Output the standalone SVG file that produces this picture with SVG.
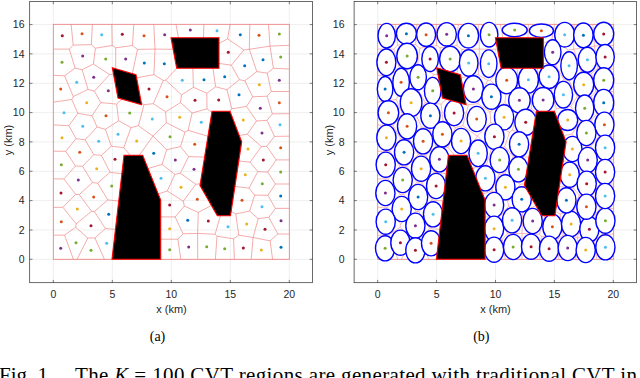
<svg xmlns="http://www.w3.org/2000/svg" xmlns:xlink="http://www.w3.org/1999/xlink" width="640" height="378" viewBox="0 0 640 378">
<style>
.grid{stroke:#e4e4e4;stroke-width:0.6;fill:none}
.frame{stroke:#2b2b2b;stroke-width:0.7;fill:none}
.tick{stroke:#2b2b2b;stroke-width:0.6}
.lbl{font-family:"Liberation Sans",Arial,sans-serif;font-size:10.5px;fill:#262626}
.ax{font-family:"Liberation Sans",Arial,sans-serif;font-size:11px;fill:#262626}
.cap{font-family:"Liberation Serif","Times New Roman",serif;fill:#000}
.vor{stroke:#f07f7f;stroke-width:0.65;fill:none;stroke-linejoin:round}
.vorb{stroke:#f38a8a;stroke-width:0.7;fill:none;opacity:0.85}
.dom{fill:none;stroke:#f07a7a;stroke-width:0.8}
.obs{fill:#000;stroke:#ff0000;stroke-width:1.1}
.ell{fill:#fff;stroke:#0000ff;stroke-width:1.4}
.b{fill:#0072BD}.o{fill:#D95319}.y{fill:#EDB120}.p{fill:#7E2F8E}.g{fill:#77AC30}.l{fill:#4DBEEE}.r{fill:#A2142F}
</style>
<defs>
<clipPath id="dclip"><rect x="53.3" y="24.3" width="236" height="235"/></clipPath>
<path id="vorpath" d="M73.2 45.1L71.1 24.3M91.3 44.6L92.4 24.3M112.2 45.5L111.8 24.3M132.5 45.5L133.8 24.3M155 49.1L153.8 24.3M180.6 49.4L176 24.3M203.1 51.7L203.9 24.3M227.6 38.9L230.1 24.3M249.3 49.3L249.8 24.3M270 46.1L268.5 24.3M53.3 49.1L69.3 49.1L73.2 45.1L91.3 44.6L95.4 48.2L112.2 45.5L115.7 47.8L132.5 45.5L137.5 49.4L155 49.1L180.6 49.4L188.5 55.5L192.5 56.1L202.1 53.5L203.1 51.7L227.6 38.9L243.9 50L249.3 49.3L270 46.1L289.3 45.3M202.1 53.5L212.1 62.4L231.4 65.2L243.9 50M69.3 49.1L75.1 68.1M95.4 48.2L93.4 64M115.7 47.8L115.7 74.1M137.5 49.4L131.2 78.8M155 49.1L153.9 74.7M53.3 75.3L64.6 75.8L75.1 68.1L82.2 69.7L93.4 64L109.6 74.6L115.7 74.1L128.3 81L131.2 78.8L153.9 74.7L163.3 80.4L165.8 80.2L188.5 55.5M64.6 75.8L73.3 96.6M82.2 69.7L88 89.4M109.6 74.6L94.4 91.2M128.3 81L128.8 92.5M163.3 80.4L153.4 103.7M165.8 80.2L181.5 94.9M192.5 56.1L193.4 87.3M212.1 62.4L215.6 86.8M231.4 65.2L239.4 79.7L226.9 89.7M239.4 79.7L244.8 80.8M249.3 49.3L256.8 71.6M270 46.1L273.4 68.3M256.8 71.6L244.8 80.8M256.8 71.6L267.2 73.1M273.4 68.3L267.2 73.1M273.4 68.3L289.3 69M267.2 73.1L271.3 91.5L289.3 91.5M271.3 91.5L267.1 96.2L252.7 96.8M244.8 80.8L252.7 96.8L246.5 106.4L231.9 108.9L222.3 120.7M226.9 89.7L231.9 108.9M215.6 86.8L226.9 89.7M215.6 86.8L206.8 93.2L193.4 87.3L181.5 94.9L180.5 102.6M206.8 93.2L207 108.8L222.3 120.7M207 108.8L192.1 113L180.5 102.6L165.6 111.8L153.4 103.7L144 104.7L128.8 92.5L116.7 104.1L100.8 102.6L94.4 91.2L88 89.4L73.3 96.6L71.8 99.5L53.3 102.1M71.8 99.5L77.8 113.3M100.8 102.6L92 115.7M116.7 104.1L118.6 120.8M144 104.7L138.4 125.7M165.6 111.8L166.3 122.7M192.1 113L188.1 130.3L221.9 140.5M222.3 120.7L223.2 138.1L247.3 134.2M223.2 138.1L221.9 140.5M246.5 106.4L256.5 121M267.1 96.2L272.3 113.9L289.3 113.7M272.3 113.9L267 120.3L256.5 121L247.3 134.2M267 120.3L274.5 136.4L289.3 136.2M274.5 136.4L266.7 146.3L261.4 146.6L247.3 134.2M266.7 146.3L276.2 159.9L289.3 159.9M261.4 146.6L250.1 162.2L230 160M250.1 162.2L257.8 171.6M276.2 159.9L267.8 172.1L257.8 171.6M267.8 172.1L275.4 184L289.3 184M257.8 171.6L249 188.2L228 185.6M249 188.2L254.7 195.1M275.4 184L267.9 195.3L254.7 195.1L249.6 211.1M267.9 195.3L275.4 208.4L289.3 208.4M275.4 208.4L268.9 217.3L258.2 218.7L249.6 211.1L235.7 213.9L222 206.6M235.7 213.9L238.8 235.1M258.2 218.7L253.1 237.5M268.9 217.3L277.8 234L289.3 234M277.8 234L270.1 240.9L253.1 237.5M270.1 240.9L272.6 259.3M253.1 237.5L251.2 259.3M253.1 237.5L238.8 235.1L233.6 238.8L234.4 259.3M233.6 238.8L217 236.3L215.4 259.3M217 236.3L215.1 234.3L221.2 213M215.1 234.3L197.6 233.4L197.7 259.3M197.6 233.4L198.3 212.4L216 203M198.3 212.4L184.3 206.1M197.6 233.4L183.1 233.8L175.1 216.9M183.1 233.8L177.9 239.2L180.8 259.3M177.9 239.2L155 239.2M175.1 216.9L155 216.9M175.1 216.9L184.3 206.1L183.3 201.2L167.3 191M183.3 201.2L195.8 184.3L210 182.7M195.8 184.3L180.4 173.2L174.8 174.4M180.4 173.2L188.6 156.6L215 157.4M188.6 156.6L180.5 146.6L185 132.1L188.1 130.3M185 132.1L166.3 122.7L153 136.1M180.5 146.6L166.7 149.7L153 136.1M166.7 149.7L162.1 164.4L174.8 174.4L167.3 191L150 196.6M162.1 164.4L145 169.4M153 136.1L138.4 125.7L131 127.6L118.6 120.8L105.3 129.3L97.1 127L92 115.7L77.8 113.3L68.9 125.7L53.3 124.9M68.9 125.7L76 138.7L85.1 139.8L97.1 127M76 138.7L65.7 151.3L53.3 151.2M85.1 139.8L93.8 154.7M105.3 129.3L111.4 146.2L101.4 155.3L93.8 154.7M131 127.6L123.8 147.7L111.4 146.2M123.8 147.7L135.1 161.1M153 136.1L135.1 161.1M65.7 151.3L75.5 166L82.6 166.3M93.8 154.7L82.6 166.3M101.4 155.3L110.1 172.3L135 175.4M110.1 172.3L97.6 183.1M82.6 166.3L92.5 182.6L97.6 183.1L107.8 199.9L130 202.3M75.5 166L63.9 178.9L53.3 178.9M92.5 182.6L79.3 194.6L75.6 194.4L63.9 178.9M75.6 194.4L62.9 207.3L53.3 207.4M79.3 194.6L91.6 211.3L94.4 211.5L107.8 199.9M91.6 211.3L76.1 223.9L62.9 207.3M76.1 223.9L75.7 227.3L64.5 235.1L53.3 235.2M75.7 227.3L87.8 238L94.9 238L105.4 228.6L94.4 211.5M105.4 228.6L130 230.2M64.5 235.1L73.4 259.3M87.8 238L77 259.3M94.9 238L104.4 259.3"/>
<g id="obstacles">
<polygon class="obs" points="171,37.7 219,37.7 219,68.3 176.7,68.3"/>
<polygon class="obs" points="112.3,67.7 136,74.7 141.7,104.7 118,98"/>
<polygon class="obs" points="212,111.3 230,111.3 241.7,141.7 230.5,215.7 217.3,215.7 200,185.5"/>
<polygon class="obs" points="124,155.3 142.7,155.3 160.7,200 160.7,259.3 112,259.3"/>
</g>
</defs>

<g id="axes-a">
<path class="grid" d="M53.3 1.5V282.7M112.3 1.5V282.7M171.3 1.5V282.7M230.3 1.5V282.7M289.3 1.5V282.7M29.7 259.3H312.5M29.7 230H312.5M29.7 200.6H312.5M29.7 171.3H312.5M29.7 141.9H312.5M29.7 112.6H312.5M29.7 83.3H312.5M29.7 53.9H312.5M29.7 24.6H312.5"/>
<rect class="frame" x="29.7" y="1.5" width="282.8" height="281.2"/>
<path class="tick" d="M53.3 282.7v-2.8M112.3 282.7v-2.8M171.3 282.7v-2.8M230.3 282.7v-2.8M289.3 282.7v-2.8M53.3 1.5v2.8M112.3 1.5v2.8M171.3 1.5v2.8M230.3 1.5v2.8M289.3 1.5v2.8M29.7 259.3h2.8M29.7 230h2.8M29.7 200.6h2.8M29.7 171.3h2.8M29.7 141.9h2.8M29.7 112.6h2.8M29.7 83.3h2.8M29.7 53.9h2.8M29.7 24.6h2.8M312.5 259.3h-2.8M312.5 230h-2.8M312.5 200.6h-2.8M312.5 171.3h-2.8M312.5 141.9h-2.8M312.5 112.6h-2.8M312.5 83.3h-2.8M312.5 53.9h-2.8M312.5 24.6h-2.8"/>
<g class="lbl" text-anchor="end">
<text x="24.5" y="263">0</text><text x="24.5" y="233.7">2</text><text x="24.5" y="204.3">4</text><text x="24.5" y="175">6</text><text x="24.5" y="145.6">8</text><text x="24.5" y="116.3">10</text><text x="24.5" y="87">12</text><text x="24.5" y="57.6">14</text><text x="24.5" y="28.3">16</text>
</g>
<g class="lbl" text-anchor="middle">
<text x="53.3" y="297.5">0</text><text x="112.3" y="297.5">5</text><text x="171.3" y="297.5">10</text><text x="230.3" y="297.5">15</text><text x="289.3" y="297.5">20</text>
</g>
<text class="ax" x="171.5" y="313" text-anchor="middle">x (km)</text>
<text class="ax" x="12" y="140" text-anchor="middle" transform="rotate(-90 12 140)">y (km)</text>
</g>

<g id="plot-a">
<use xlink:href="#vorpath" href="#vorpath" class="vor" clip-path="url(#dclip)"/>
<rect class="dom" x="53.3" y="24.3" width="236" height="235"/>
<use xlink:href="#obstacles" href="#obstacles"/>
<g id="points-a">
<circle class="r" cx="62.3" cy="35.7" r="1.5"/><circle class="o" cx="82" cy="33.7" r="1.5"/><circle class="l" cx="101.7" cy="34.7" r="1.5"/><circle class="r" cx="122.3" cy="34.3" r="1.5"/><circle class="o" cx="144" cy="35.7" r="1.5"/><circle class="p" cx="164.7" cy="34.7" r="1.5"/><circle class="p" cx="190.3" cy="30" r="1.5"/><circle class="l" cx="217" cy="30.7" r="1.5"/><circle class="b" cx="240.3" cy="34.7" r="1.5"/><circle class="o" cx="259" cy="35.3" r="1.5"/><circle class="g" cx="279.3" cy="34" r="1.5"/>
<circle class="g" cx="62" cy="62.3" r="1.5"/><circle class="p" cx="82.7" cy="56" r="1.5"/><circle class="g" cx="105.7" cy="59" r="1.5"/><circle class="p" cx="125.7" cy="59" r="1.5"/><circle class="b" cx="144.3" cy="63" r="1.5"/><circle class="b" cx="164.3" cy="63.7" r="1.5"/><circle class="r" cx="228.3" cy="52.3" r="1.5"/><circle class="b" cx="244.7" cy="65.7" r="1.5"/><circle class="b" cx="263" cy="59.7" r="1.5"/><circle class="g" cx="280.7" cy="57" r="1.5"/>
<circle class="o" cx="60.7" cy="89" r="1.5"/><circle class="l" cx="76.7" cy="82.3" r="1.5"/><circle class="p" cx="93.7" cy="77.3" r="1.5"/><circle class="p" cx="108.3" cy="90.7" r="1.5"/><circle class="r" cx="149" cy="89" r="1.5"/><circle class="o" cx="167" cy="96.7" r="1.5"/><circle class="l" cx="182.3" cy="80.3" r="1.5"/><circle class="b" cx="204" cy="79.7" r="1.5"/><circle class="b" cx="224.7" cy="76.7" r="1.5"/><circle class="y" cx="259.3" cy="84.7" r="1.5"/><circle class="p" cx="279.3" cy="80.3" r="1.5"/><circle class="b" cx="239" cy="94.7" r="1.5"/><circle class="r" cx="195" cy="100.3" r="1.5"/><circle class="r" cx="218.7" cy="100" r="1.5"/><circle class="p" cx="260.3" cy="108.3" r="1.5"/><circle class="o" cx="279.3" cy="102.7" r="1.5"/>
<circle class="l" cx="64" cy="112.7" r="1.5"/><circle class="y" cx="86.7" cy="102.7" r="1.5"/><circle class="o" cx="106" cy="115.7" r="1.5"/><circle class="g" cx="129.7" cy="113" r="1.5"/><circle class="l" cx="152.3" cy="119" r="1.5"/><circle class="y" cx="179.7" cy="117.3" r="1.5"/><circle class="l" cx="201.3" cy="122.3" r="1.5"/><circle class="y" cx="243.3" cy="120" r="1.5"/><circle class="l" cx="280" cy="124.7" r="1.5"/>
<circle class="y" cx="62" cy="137.7" r="1.5"/><circle class="l" cx="82.7" cy="126.3" r="1.5"/><circle class="l" cx="98.7" cy="141.3" r="1.5"/><circle class="l" cx="118" cy="134.3" r="1.5"/><circle class="y" cx="136.7" cy="141" r="1.5"/><circle class="g" cx="170" cy="136.7" r="1.5"/><circle class="o" cx="194.7" cy="144.3" r="1.5"/><circle class="y" cx="248" cy="149" r="1.5"/><circle class="p" cx="262" cy="133" r="1.5"/><circle class="o" cx="280.7" cy="147.7" r="1.5"/>
<circle class="g" cx="61.3" cy="164.7" r="1.5"/><circle class="o" cx="79.7" cy="152.3" r="1.5"/><circle class="y" cx="96.7" cy="168.7" r="1.5"/><circle class="r" cx="115" cy="159.3" r="1.5"/><circle class="b" cx="153.7" cy="153.3" r="1.5"/><circle class="p" cx="175.3" cy="160" r="1.5"/><circle class="p" cx="194" cy="169.3" r="1.5"/><circle class="r" cx="263.3" cy="160" r="1.5"/><circle class="g" cx="280.7" cy="172" r="1.5"/><circle class="y" cx="245.3" cy="174.7" r="1.5"/>
<circle class="p" cx="78.3" cy="180" r="1.5"/><circle class="g" cx="111.7" cy="186" r="1.5"/><circle class="l" cx="161" cy="178.3" r="1.5"/><circle class="y" cx="181" cy="187.3" r="1.5"/><circle class="g" cx="262.3" cy="183.7" r="1.5"/>
<circle class="r" cx="61" cy="193" r="1.5"/><circle class="o" cx="93.7" cy="197" r="1.5"/><circle class="y" cx="77.3" cy="209" r="1.5"/><circle class="b" cx="108.7" cy="214.3" r="1.5"/><circle class="o" cx="61.3" cy="221.7" r="1.5"/><circle class="r" cx="91" cy="225.7" r="1.5"/><circle class="p" cx="60.7" cy="248.3" r="1.5"/><circle class="g" cx="76" cy="242.7" r="1.5"/><circle class="g" cx="91" cy="250.3" r="1.5"/><circle class="l" cx="106.7" cy="243.3" r="1.5"/>
<circle class="r" cx="169.7" cy="205" r="1.5"/><circle class="o" cx="197.3" cy="199.3" r="1.5"/><circle class="y" cx="169.7" cy="228.7" r="1.5"/><circle class="b" cx="187.7" cy="220.3" r="1.5"/><circle class="r" cx="208.3" cy="221" r="1.5"/><circle class="l" cx="228" cy="226.7" r="1.5"/><circle class="y" cx="246.7" cy="224" r="1.5"/><circle class="r" cx="265" cy="229.3" r="1.5"/><circle class="p" cx="281" cy="220.7" r="1.5"/><circle class="g" cx="169.7" cy="249.7" r="1.5"/><circle class="p" cx="188.7" cy="247" r="1.5"/><circle class="g" cx="206.7" cy="246.7" r="1.5"/><circle class="g" cx="224.7" cy="248.7" r="1.5"/><circle class="r" cx="243.3" cy="248" r="1.5"/><circle class="y" cx="261.3" cy="250" r="1.5"/><circle class="b" cx="281" cy="247.3" r="1.5"/><circle class="o" cx="242" cy="200.3" r="1.5"/><circle class="l" cx="262" cy="206.7" r="1.5"/><circle class="b" cx="280.7" cy="196" r="1.5"/>
</g>
</g>

<g id="axes-b">
<path class="grid" d="M377.7 1.5V282.7M436.6 1.5V282.7M495.5 1.5V282.7M554.4 1.5V282.7M613.3 1.5V282.7M354.1 259.3H636.5M354.1 230H636.5M354.1 200.6H636.5M354.1 171.3H636.5M354.1 141.9H636.5M354.1 112.6H636.5M354.1 83.3H636.5M354.1 53.9H636.5M354.1 24.6H636.5"/>
<rect class="frame" x="354.1" y="1.5" width="282.4" height="281.2"/>
<path class="tick" d="M377.7 282.7v-2.8M436.6 282.7v-2.8M495.5 282.7v-2.8M554.4 282.7v-2.8M613.3 282.7v-2.8M377.7 1.5v2.8M436.6 1.5v2.8M495.5 1.5v2.8M554.4 1.5v2.8M613.3 1.5v2.8M354.1 259.3h2.8M354.1 230h2.8M354.1 200.6h2.8M354.1 171.3h2.8M354.1 141.9h2.8M354.1 112.6h2.8M354.1 83.3h2.8M354.1 53.9h2.8M354.1 24.6h2.8M636.5 259.3h-2.8M636.5 230h-2.8M636.5 200.6h-2.8M636.5 171.3h-2.8M636.5 141.9h-2.8M636.5 112.6h-2.8M636.5 83.3h-2.8M636.5 53.9h-2.8M636.5 24.6h-2.8"/>
<g class="lbl" text-anchor="end">
<text x="344.5" y="263">0</text><text x="344.5" y="233.7">2</text><text x="344.5" y="204.3">4</text><text x="344.5" y="175">6</text><text x="344.5" y="145.6">8</text><text x="344.5" y="116.3">10</text><text x="344.5" y="87">12</text><text x="344.5" y="57.6">14</text><text x="344.5" y="28.3">16</text>
</g>
<g class="lbl" text-anchor="middle">
<text x="377.7" y="297.5">0</text><text x="436.6" y="297.5">5</text><text x="495.5" y="297.5">10</text><text x="554.4" y="297.5">15</text><text x="613.3" y="297.5">20</text>
</g>
<text class="ax" x="495.5" y="313" text-anchor="middle">x (km)</text>
<text class="ax" x="332.5" y="140" text-anchor="middle" transform="rotate(-90 332.5 140)">y (km)</text>
</g>

<g id="plot-b">
<g transform="translate(324.4 0)">
<use xlink:href="#vorpath" href="#vorpath" class="vorb" clip-path="url(#dclip)"/>
<rect class="dom" x="53.3" y="24.3" width="236" height="235"/>
</g>
<g id="ellipses-b" class="ell">
<ellipse cx="386.7" cy="35.7" rx="8.7" ry="12.3"/><ellipse cx="406.4" cy="33.7" rx="10" ry="10.5"/><ellipse cx="426.1" cy="34.7" rx="9.5" ry="11.7"/><ellipse cx="446.7" cy="34.3" rx="9.7" ry="11.7"/><ellipse cx="468.4" cy="35.7" rx="10.2" ry="12.3"/><ellipse cx="489.1" cy="34.7" rx="8.8" ry="12.3"/><ellipse cx="514.7" cy="30" rx="12.5" ry="6.7"/><ellipse cx="541.4" cy="30.7" rx="12" ry="6.7"/><ellipse cx="564.7" cy="34.7" rx="10" ry="12.3"/><ellipse cx="583.4" cy="35.3" rx="9.7" ry="12.3"/><ellipse cx="603.7" cy="34" rx="10" ry="11.7"/>
<ellipse cx="386.4" cy="62.3" rx="9.5" ry="13.3"/><ellipse cx="407.1" cy="56" rx="10.3" ry="12.8"/><ellipse cx="430.1" cy="59" rx="8.3" ry="12.5"/><ellipse cx="450.1" cy="59" rx="10.5" ry="12.7"/><ellipse cx="468.7" cy="63" rx="9.3" ry="13.3"/><ellipse cx="488.7" cy="63.7" rx="8.3" ry="13.8"/><ellipse cx="552.7" cy="52.3" rx="8.3" ry="12.5"/><ellipse cx="569.1" cy="65.7" rx="8.3" ry="14"/><ellipse cx="587.4" cy="59.7" rx="9.2" ry="12.5"/><ellipse cx="605.1" cy="57" rx="9.2" ry="12.5"/>
<ellipse cx="385.1" cy="89" rx="7.8" ry="12.5"/><ellipse cx="401.1" cy="82.3" rx="8.3" ry="14"/><ellipse cx="418.1" cy="77.3" rx="8.3" ry="12.5"/><ellipse cx="432.7" cy="90.7" rx="8.3" ry="13.3"/><ellipse cx="473.4" cy="89" rx="10" ry="13.3"/><ellipse cx="491.4" cy="96.7" rx="9.6" ry="12.6"/><ellipse cx="506.7" cy="80.3" rx="10.8" ry="13.3"/><ellipse cx="528.4" cy="79.7" rx="10" ry="13.3"/><ellipse cx="549.1" cy="76.7" rx="10" ry="11.7"/><ellipse cx="583.7" cy="84.7" rx="10" ry="12.5"/><ellipse cx="603.7" cy="80.3" rx="10" ry="12.5"/><ellipse cx="563.4" cy="94.7" rx="9.2" ry="13.3"/><ellipse cx="519.4" cy="100.3" rx="10.8" ry="12.5"/><ellipse cx="543.1" cy="100" rx="10.8" ry="12.5"/><ellipse cx="584.7" cy="108.3" rx="9.2" ry="13.3"/><ellipse cx="603.7" cy="102.7" rx="10" ry="13.3"/>
<ellipse cx="388.4" cy="112.7" rx="10.3" ry="12"/><ellipse cx="411.1" cy="102.7" rx="10.8" ry="14"/><ellipse cx="430.4" cy="115.7" rx="9.6" ry="12.6"/><ellipse cx="454.1" cy="113" rx="9.6" ry="12.6"/><ellipse cx="476.7" cy="119" rx="9.6" ry="12.6"/><ellipse cx="504.1" cy="117.3" rx="9.6" ry="12.6"/><ellipse cx="525.7" cy="122.3" rx="10.8" ry="13"/><ellipse cx="567.7" cy="120" rx="10" ry="10.5"/><ellipse cx="604.4" cy="124.7" rx="9.6" ry="12.6"/>
<ellipse cx="386.4" cy="137.7" rx="9.6" ry="12.6"/><ellipse cx="407.1" cy="126.3" rx="9.6" ry="12.6"/><ellipse cx="423.1" cy="141.3" rx="9.6" ry="12.6"/><ellipse cx="442.4" cy="134.3" rx="9.6" ry="12.6"/><ellipse cx="461.1" cy="141" rx="9.6" ry="12.6"/><ellipse cx="494.4" cy="136.7" rx="9.6" ry="12.6"/><ellipse cx="519.1" cy="144.3" rx="9.6" ry="12.6"/><ellipse cx="572.4" cy="149" rx="9.6" ry="12.6"/><ellipse cx="586.4" cy="133" rx="9.6" ry="12.6"/><ellipse cx="605.1" cy="147.7" rx="9.6" ry="12.6"/>
<ellipse cx="385.7" cy="164.7" rx="9.6" ry="12.6"/><ellipse cx="404.1" cy="152.3" rx="9.6" ry="12.6"/><ellipse cx="421.1" cy="168.7" rx="9.6" ry="12.6"/><ellipse cx="439.4" cy="159.3" rx="9.6" ry="12.6"/><ellipse cx="478.1" cy="153.3" rx="9.2" ry="13.3"/><ellipse cx="499.7" cy="160" rx="9.6" ry="12.6"/><ellipse cx="518.4" cy="169.3" rx="9.6" ry="12.6"/><ellipse cx="587.7" cy="160" rx="9.6" ry="12.6"/><ellipse cx="605.1" cy="172" rx="9.6" ry="12.6"/><ellipse cx="569.7" cy="174.7" rx="9.6" ry="12.6"/>
<ellipse cx="402.7" cy="180" rx="9.6" ry="12.6"/><ellipse cx="436.1" cy="186" rx="9.6" ry="12.6"/><ellipse cx="485.4" cy="178.3" rx="9.6" ry="12.6"/><ellipse cx="505.4" cy="187.3" rx="9.6" ry="12.6"/><ellipse cx="586.7" cy="183.7" rx="9.6" ry="12.6"/>
<ellipse cx="385.4" cy="193" rx="9.6" ry="12.6"/><ellipse cx="418.1" cy="197" rx="9.6" ry="12.6"/><ellipse cx="401.7" cy="209" rx="9.6" ry="12.6"/><ellipse cx="433.1" cy="214.3" rx="9.6" ry="12.6"/><ellipse cx="385.7" cy="221.7" rx="9.6" ry="12.6"/><ellipse cx="415.4" cy="225.7" rx="9.6" ry="12.6"/><ellipse cx="385.1" cy="248.3" rx="9.6" ry="12.6"/><ellipse cx="400.4" cy="242.7" rx="9.6" ry="12.6"/><ellipse cx="415.4" cy="250.3" rx="9.6" ry="12.6"/><ellipse cx="431.1" cy="243.3" rx="9.6" ry="12.6"/>
<ellipse cx="494.1" cy="205" rx="9.6" ry="12.6"/><ellipse cx="521.7" cy="199.3" rx="9.6" ry="12.6"/><ellipse cx="494.1" cy="228.7" rx="9.6" ry="12.6"/><ellipse cx="512.1" cy="220.3" rx="9.6" ry="12.6"/><ellipse cx="532.7" cy="221" rx="9.6" ry="12.6"/><ellipse cx="552.4" cy="226.7" rx="9.6" ry="12.6"/><ellipse cx="571.1" cy="224" rx="9.6" ry="12.6"/><ellipse cx="589.4" cy="229.3" rx="9.6" ry="12.6"/><ellipse cx="605.4" cy="220.7" rx="9.6" ry="12.6"/><ellipse cx="494.1" cy="249.7" rx="9.6" ry="12.6"/><ellipse cx="513.1" cy="247" rx="9.6" ry="12.6"/><ellipse cx="531.1" cy="246.7" rx="9.6" ry="12.6"/><ellipse cx="549.1" cy="248.7" rx="9.6" ry="12.6"/><ellipse cx="567.7" cy="248" rx="9.6" ry="12.6"/><ellipse cx="585.7" cy="250" rx="9.6" ry="12.6"/><ellipse cx="605.4" cy="247.3" rx="9.6" ry="12.6"/><ellipse cx="566.4" cy="200.3" rx="9.6" ry="12.6"/><ellipse cx="586.4" cy="206.7" rx="9.6" ry="12.6"/><ellipse cx="605.1" cy="196" rx="9.6" ry="12.6"/>
</g>
<use xlink:href="#obstacles" href="#obstacles" transform="translate(324.4 0)"/>
<g id="points-b">
<circle class="p" cx="386.7" cy="35.7" r="1.5"/><circle class="b" cx="406.4" cy="33.7" r="1.5"/><circle class="o" cx="426.1" cy="34.7" r="1.5"/><circle class="p" cx="446.7" cy="34.3" r="1.5"/><circle class="b" cx="468.4" cy="35.7" r="1.5"/><circle class="g" cx="489.1" cy="34.7" r="1.5"/><circle class="g" cx="514.7" cy="30" r="1.5"/><circle class="o" cx="541.4" cy="30.7" r="1.5"/><circle class="l" cx="564.7" cy="34.7" r="1.5"/><circle class="b" cx="583.4" cy="35.3" r="1.5"/><circle class="r" cx="603.7" cy="34" r="1.5"/>
<circle class="r" cx="386.4" cy="62.3" r="1.5"/><circle class="g" cx="407.1" cy="56" r="1.5"/><circle class="r" cx="430.1" cy="59" r="1.5"/><circle class="g" cx="450.1" cy="59" r="1.5"/><circle class="l" cx="468.7" cy="63" r="1.5"/><circle class="l" cx="488.7" cy="63.7" r="1.5"/><circle class="p" cx="552.7" cy="52.3" r="1.5"/><circle class="l" cx="569.1" cy="65.7" r="1.5"/><circle class="l" cx="587.4" cy="59.7" r="1.5"/><circle class="r" cx="605.1" cy="57" r="1.5"/>
<circle class="b" cx="385.1" cy="89" r="1.5"/><circle class="o" cx="401.1" cy="82.3" r="1.5"/><circle class="g" cx="418.1" cy="77.3" r="1.5"/><circle class="g" cx="432.7" cy="90.7" r="1.5"/><circle class="p" cx="473.4" cy="89" r="1.5"/><circle class="b" cx="491.4" cy="96.7" r="1.5"/><circle class="o" cx="506.7" cy="80.3" r="1.5"/><circle class="l" cx="528.4" cy="79.7" r="1.5"/><circle class="l" cx="549.1" cy="76.7" r="1.5"/><circle class="y" cx="583.7" cy="84.7" r="1.5"/><circle class="g" cx="603.7" cy="80.3" r="1.5"/><circle class="l" cx="563.4" cy="94.7" r="1.5"/><circle class="p" cx="519.4" cy="100.3" r="1.5"/><circle class="p" cx="543.1" cy="100" r="1.5"/><circle class="g" cx="584.7" cy="108.3" r="1.5"/><circle class="b" cx="603.7" cy="102.7" r="1.5"/>
<circle class="o" cx="388.4" cy="112.7" r="1.5"/><circle class="y" cx="411.1" cy="102.7" r="1.5"/><circle class="b" cx="430.4" cy="115.7" r="1.5"/><circle class="r" cx="454.1" cy="113" r="1.5"/><circle class="o" cx="476.7" cy="119" r="1.5"/><circle class="y" cx="504.1" cy="117.3" r="1.5"/><circle class="r" cx="525.7" cy="122.3" r="1.5"/><circle class="y" cx="567.7" cy="120" r="1.5"/><circle class="o" cx="604.4" cy="124.7" r="1.5"/>
<circle class="y" cx="386.4" cy="137.7" r="1.5"/><circle class="o" cx="407.1" cy="126.3" r="1.5"/><circle class="o" cx="423.1" cy="141.3" r="1.5"/><circle class="o" cx="442.4" cy="134.3" r="1.5"/><circle class="y" cx="461.1" cy="141" r="1.5"/><circle class="r" cx="494.4" cy="136.7" r="1.5"/><circle class="b" cx="519.1" cy="144.3" r="1.5"/><circle class="y" cx="572.4" cy="149" r="1.5"/><circle class="g" cx="586.4" cy="133" r="1.5"/><circle class="l" cx="605.1" cy="147.7" r="1.5"/>
<circle class="r" cx="385.7" cy="164.7" r="1.5"/><circle class="b" cx="404.1" cy="152.3" r="1.5"/><circle class="y" cx="421.1" cy="168.7" r="1.5"/><circle class="p" cx="439.4" cy="159.3" r="1.5"/><circle class="l" cx="478.1" cy="153.3" r="1.5"/><circle class="g" cx="499.7" cy="160" r="1.5"/><circle class="g" cx="518.4" cy="169.3" r="1.5"/><circle class="p" cx="587.7" cy="160" r="1.5"/><circle class="r" cx="605.1" cy="172" r="1.5"/><circle class="y" cx="569.7" cy="174.7" r="1.5"/>
<circle class="g" cx="402.7" cy="180" r="1.5"/><circle class="r" cx="436.1" cy="186" r="1.5"/><circle class="l" cx="485.4" cy="178.3" r="1.5"/><circle class="y" cx="505.4" cy="187.3" r="1.5"/><circle class="r" cx="586.7" cy="183.7" r="1.5"/>
<circle class="p" cx="385.4" cy="193" r="1.5"/><circle class="b" cx="418.1" cy="197" r="1.5"/><circle class="y" cx="401.7" cy="209" r="1.5"/><circle class="l" cx="433.1" cy="214.3" r="1.5"/><circle class="l" cx="385.7" cy="221.7" r="1.5"/><circle class="p" cx="415.4" cy="225.7" r="1.5"/><circle class="g" cx="385.1" cy="248.3" r="1.5"/><circle class="r" cx="400.4" cy="242.7" r="1.5"/><circle class="r" cx="415.4" cy="250.3" r="1.5"/><circle class="o" cx="431.1" cy="243.3" r="1.5"/>
<circle class="p" cx="494.1" cy="205" r="1.5"/><circle class="b" cx="521.7" cy="199.3" r="1.5"/><circle class="y" cx="494.1" cy="228.7" r="1.5"/><circle class="l" cx="512.1" cy="220.3" r="1.5"/><circle class="p" cx="532.7" cy="221" r="1.5"/><circle class="o" cx="552.4" cy="226.7" r="1.5"/><circle class="y" cx="571.1" cy="224" r="1.5"/><circle class="r" cx="589.4" cy="229.3" r="1.5"/><circle class="g" cx="605.4" cy="220.7" r="1.5"/><circle class="r" cx="494.1" cy="249.7" r="1.5"/><circle class="g" cx="513.1" cy="247" r="1.5"/><circle class="r" cx="531.1" cy="246.7" r="1.5"/><circle class="r" cx="549.1" cy="248.7" r="1.5"/><circle class="p" cx="567.7" cy="248" r="1.5"/><circle class="y" cx="585.7" cy="250" r="1.5"/><circle class="l" cx="605.4" cy="247.3" r="1.5"/><circle class="b" cx="566.4" cy="200.3" r="1.5"/><circle class="o" cx="586.4" cy="206.7" r="1.5"/><circle class="l" cx="605.1" cy="196" r="1.5"/>
</g>
</g>

<g id="captions">
<text class="cap" x="157.5" y="341" font-size="14" text-anchor="middle">(a)</text>
<text class="cap" x="481.3" y="341" font-size="14" text-anchor="middle">(b)</text>
<text class="cap" x="-1" y="382" font-size="21">Fig. 1.</text>
<text class="cap" x="75" y="382" font-size="21" textLength="562" lengthAdjust="spacing">The <tspan font-style="italic">K</tspan> = 100 CVT regions are generated with traditional CVT in</text>
</g>
</svg>
